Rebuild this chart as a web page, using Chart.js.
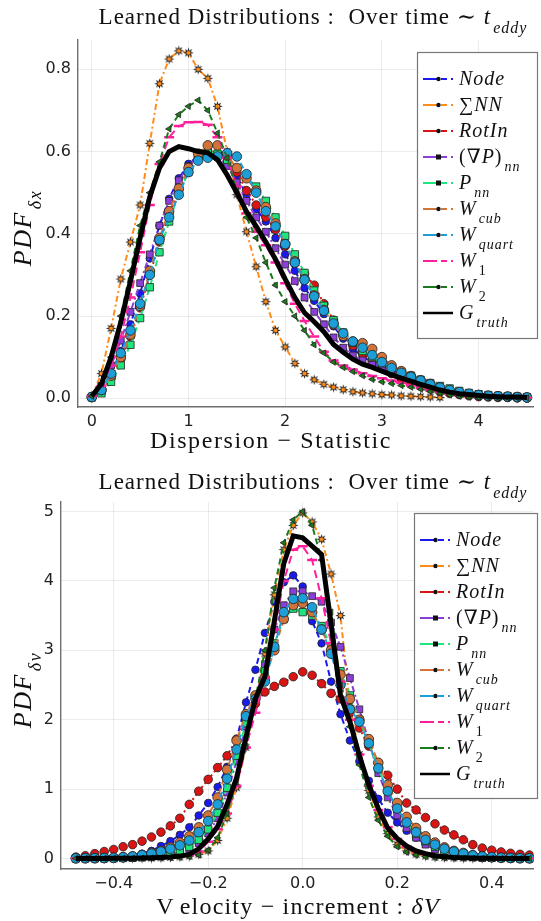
<!DOCTYPE html>
<html>
<head>
<meta charset="utf-8">
<script src="https://cdn.jsdelivr.net/npm/chart.js@4.4.1/dist/chart.umd.min.js"></script>
<style>
  html, body { margin: 0; padding: 0; background: #fff; }
  #wrap { position: relative; width: 541px; height: 921px; overflow: hidden; }
  canvas { position: absolute; left: 0; }
</style>
</head>
<body>
<div id="wrap">
  <canvas id="topChart" width="541" height="460" style="top:0"></canvas>
  <canvas id="botChart" width="541" height="461" style="top:460px"></canvas>
</div>
<script>
// ---- top panel: dispersion statistic ----
const xTop = [0, 0.1, 0.2, 0.3, 0.4, 0.5, 0.6, 0.7, 0.8, 0.9, 1.0, 1.1, 1.2, 1.3, 1.4, 1.5, 1.6, 1.7, 1.8, 1.9,
  2.0, 2.1, 2.2, 2.3, 2.4, 2.5, 2.6, 2.7, 2.8, 2.9, 3.0, 3.1, 3.2, 3.3, 3.4, 3.5, 3.6, 3.7, 3.8, 3.9,
  4.0, 4.1, 4.2, 4.3, 4.4, 4.5]
const topNode = [0.003, 0.02, 0.06, 0.115, 0.18, 0.255, 0.34, 0.42, 0.485, 0.535, 0.57, 0.59, 0.597, 0.595, 0.58, 0.54, 0.495, 0.46, 0.43, 0.39,
  0.35, 0.31, 0.268, 0.237, 0.205, 0.175, 0.145, 0.12, 0.102, 0.087, 0.072, 0.06, 0.048, 0.039, 0.031, 0.024, 0.018, 0.013, 0.01, 0.007,
  0.005, 0.004, 0.003, 0.002, 0.002, 0.001]
const topSumNN = [0.005, 0.06, 0.17, 0.29, 0.38, 0.47, 0.62, 0.765, 0.825, 0.845, 0.84, 0.8, 0.778, 0.71, 0.6, 0.495, 0.405, 0.32, 0.235, 0.165,
  0.125, 0.085, 0.06, 0.045, 0.034, 0.027, 0.021, 0.016, 0.013, 0.011, 0.009, 0.008, 0.006, 0.005, 0.004, 0.003, 0.002, null, null, null,
  null, null, null, null, null, null]
const topRotIn = [0.002, 0.015, 0.05, 0.095, 0.15, 0.22, 0.3, 0.38, 0.45, 0.505, 0.55, 0.585, 0.6, 0.595, 0.575, 0.55, 0.505, 0.47, 0.44, 0.41,
  0.37, 0.335, 0.303, 0.275, 0.23, 0.19, 0.155, 0.128, 0.108, 0.088, 0.073, 0.06, 0.048, 0.038, 0.03, 0.023, 0.017, 0.012, 0.009, 0.006,
  0.004, 0.003, 0.002, 0.002, 0.001, 0.001]
const topGradP = [0.004, 0.03, 0.08, 0.14, 0.21, 0.28, 0.35, 0.42, 0.48, 0.53, 0.565, 0.59, 0.6, 0.59, 0.565, 0.525, 0.48, 0.44, 0.405, 0.365,
  0.325, 0.285, 0.245, 0.21, 0.18, 0.148, 0.123, 0.104, 0.092, 0.082, 0.074, 0.067, 0.058, 0.048, 0.038, 0.03, 0.024, 0.018, 0.013, 0.01,
  0.007, 0.005, 0.004, 0.003, 0.002, 0.002]
const topPnn = [0.002, 0.012, 0.04, 0.08, 0.13, 0.195, 0.27, 0.355, 0.43, 0.5, 0.55, 0.585, 0.598, 0.595, 0.58, 0.56, 0.537, 0.515, 0.48, 0.44,
  0.395, 0.35, 0.305, 0.262, 0.225, 0.19, 0.16, 0.135, 0.115, 0.1, 0.085, 0.075, 0.065, 0.055, 0.045, 0.037, 0.03, 0.024, 0.018, 0.013,
  0.01, 0.008, 0.006, 0.005, 0.004, 0.003]
const topWcub = [0.003, 0.02, 0.055, 0.1, 0.155, 0.225, 0.31, 0.39, 0.455, 0.51, 0.56, 0.595, 0.615, 0.615, 0.59, 0.56, 0.535, 0.505, 0.465, 0.425,
  0.375, 0.333, 0.29, 0.25, 0.215, 0.18, 0.152, 0.138, 0.134, 0.12, 0.1, 0.08, 0.066, 0.054, 0.044, 0.035, 0.026, 0.019, 0.014, 0.01,
  0.008, 0.006, 0.005, 0.004, 0.003, 0.002]
const topWquart = [0.003, 0.02, 0.06, 0.11, 0.165, 0.23, 0.3, 0.385, 0.44, 0.495, 0.55, 0.578, 0.585, 0.588, 0.596, 0.588, 0.545, 0.5, 0.455, 0.418,
  0.375, 0.33, 0.288, 0.248, 0.213, 0.182, 0.158, 0.138, 0.123, 0.105, 0.088, 0.074, 0.062, 0.052, 0.043, 0.034, 0.026, 0.02, 0.015, 0.011,
  0.008, 0.006, 0.005, 0.004, 0.003, 0.002]
const topW1 = [0.005, 0.03, 0.08, 0.15, 0.245, 0.355, 0.47, 0.57, 0.635, 0.662, 0.671, 0.672, 0.665, 0.635, 0.585, 0.515, 0.45, 0.405, 0.372, 0.33,
  0.28, 0.23, 0.188, 0.15, 0.113, 0.092, 0.08, 0.07, 0.061, 0.054, 0.049, 0.043, 0.037, 0.031, 0.025, 0.019, 0.014, 0.01, 0.007, 0.005,
  0.004, 0.003, 0.002, 0.002, 0.001, 0.001]
const topW2 = [0.005, 0.035, 0.1, 0.2, 0.31, 0.42, 0.5, 0.575, 0.655, 0.69, 0.71, 0.725, 0.7, 0.645, 0.585, 0.505, 0.44, 0.39, 0.33, 0.275,
  0.235, 0.2, 0.165, 0.13, 0.11, 0.088, 0.075, 0.065, 0.055, 0.046, 0.04, 0.036, 0.031, 0.027, 0.022, 0.017, 0.012, 0.008, 0.005, 0.003,
  0.002, 0.002, 0.001, 0.001, 0.001, 0.001]
const topTruth = [0.005, 0.035, 0.1, 0.185, 0.285, 0.39, 0.49, 0.56, 0.6, 0.612, 0.607, 0.6, 0.597, 0.58, 0.543, 0.5, 0.454, 0.418, 0.38, 0.338,
  0.29, 0.245, 0.208, 0.186, 0.162, 0.131, 0.112, 0.095, 0.083, 0.075, 0.066, 0.057, 0.049, 0.042, 0.034, 0.027, 0.02, 0.015, 0.011, 0.009,
  0.007, 0.005, 0.004, 0.003, 0.003, 0.002]

// ---- bottom panel: velocity increment ----
const xBot = [-0.48, -0.46, -0.44, -0.42, -0.40, -0.38, -0.36, -0.34, -0.32, -0.30, -0.28, -0.26, -0.24, -0.22, -0.20, -0.18, -0.16, -0.14, -0.12, -0.10,
  -0.08, -0.06, -0.04, -0.02, 0, 0.02, 0.04, 0.06, 0.08, 0.10, 0.12, 0.14, 0.16, 0.18, 0.20, 0.22, 0.24, 0.26, 0.28, 0.30,
  0.32, 0.34, 0.36, 0.38, 0.40, 0.42, 0.44, 0.46, 0.48]
const botNode = [0.005, 0.006, 0.008, 0.01, 0.015, 0.025, 0.04, 0.07, 0.11, 0.18, 0.25, 0.34, 0.45, 0.62, 0.8, 1.03, 1.32, 1.72, 2.25, 2.72,
  3.25, 3.7, 3.98, 4.08, 3.92, 3.42, 3.1, 2.55, 2.08, 1.7, 1.4, 1.12, 0.86, 0.66, 0.52, 0.4, 0.3, 0.21, 0.16, 0.12,
  0.09, 0.06, 0.04, 0.03, 0.02, 0.012, 0.008, 0.005, 0.003]
const botSumNN = [0.001, 0.001, 0.001, 0.002, 0.002, 0.003, 0.004, 0.005, 0.007, 0.01, 0.015, 0.022, 0.035, 0.06, 0.11, 0.26, 0.58, 1.02, 1.6, 2.25,
  2.95, 3.8, 4.45, 4.8, 4.98, 4.85, 4.6, 4.1, 3.5, 2.2, 1.5, 0.98, 0.6, 0.36, 0.2, 0.11, 0.06, 0.035, 0.02, 0.012,
  0.008, 0.005, 0.003, 0.002, 0.001, 0.001, 0.001, 0.001, 0.001]
const botRotIn = [0.02, 0.04, 0.07, 0.1, 0.13, 0.17, 0.2, 0.25, 0.31, 0.38, 0.47, 0.58, 0.78, 0.97, 1.14, 1.31, 1.48, 1.72, 2.01, 2.23,
  2.4, 2.48, 2.54, 2.62, 2.69, 2.64, 2.52, 2.38, 2.3, 2.1, 1.88, 1.62, 1.38, 1.2, 1.0, 0.8, 0.7, 0.59, 0.5, 0.41,
  0.34, 0.27, 0.2, 0.15, 0.12, 0.095, 0.075, 0.06, 0.05]
const botGradP = [0, 0, 0.001, 0.002, 0.004, 0.006, 0.01, 0.02, 0.03, 0.04, 0.06, 0.09, 0.14, 0.22, 0.36, 0.58, 0.95, 1.4, 1.9, 2.3,
  2.8, 3.3, 3.65, 3.85, 3.85, 3.78, 3.7, 3.4, 3.05, 2.6, 2.15, 1.68, 1.23, 0.88, 0.62, 0.44, 0.3, 0.2, 0.13, 0.08,
  0.05, 0.03, 0.02, 0.01, 0.006, 0.004, 0.002, 0.001, 0]
const botPnn = [0.002, 0.002, 0.003, 0.004, 0.006, 0.008, 0.012, 0.02, 0.03, 0.05, 0.07, 0.11, 0.17, 0.27, 0.42, 0.66, 1.02, 1.48, 1.95, 2.32,
  2.7, 3.1, 3.45, 3.6, 3.55, 3.5, 3.35, 3.05, 2.7, 2.35, 2.0, 1.65, 1.3, 0.98, 0.72, 0.52, 0.36, 0.25, 0.17, 0.11,
  0.07, 0.05, 0.03, 0.02, 0.012, 0.008, 0.005, 0.003, 0.002]
const botWcub = [0.003, 0.004, 0.005, 0.007, 0.01, 0.02, 0.03, 0.05, 0.08, 0.11, 0.16, 0.23, 0.32, 0.45, 0.62, 0.88, 1.28, 1.7, 2.08, 2.35,
  2.6, 3.0, 3.45, 3.65, 3.68, 3.55, 3.3, 3.0, 2.65, 2.3, 2.0, 1.72, 1.38, 1.06, 0.8, 0.6, 0.44, 0.32, 0.23, 0.16,
  0.11, 0.08, 0.05, 0.03, 0.02, 0.012, 0.008, 0.005, 0.003]
const botWquart = [0.003, 0.004, 0.005, 0.007, 0.01, 0.018, 0.03, 0.05, 0.07, 0.1, 0.14, 0.19, 0.26, 0.38, 0.54, 0.78, 1.15, 1.57, 2.05, 2.3,
  2.55, 3.05, 3.55, 3.74, 3.75, 3.62, 3.3, 2.95, 2.5, 2.15, 1.97, 1.66, 1.3, 0.97, 0.72, 0.52, 0.38, 0.27, 0.2, 0.14,
  0.1, 0.07, 0.045, 0.03, 0.02, 0.012, 0.008, 0.005, 0.003]
const botW1 = [0.001, 0.001, 0.001, 0.002, 0.002, 0.003, 0.004, 0.006, 0.008, 0.012, 0.018, 0.03, 0.05, 0.1, 0.24, 0.42, 0.65, 1.05, 1.6, 2.1,
  2.6, 3.3, 4.0, 4.45, 4.5, 4.3, 3.75, 3.1, 2.55, 2.0, 1.5, 1.05, 0.7, 0.45, 0.28, 0.17, 0.1, 0.06, 0.035, 0.02,
  0.012, 0.008, 0.005, 0.003, 0.002, 0.001, 0.001, 0.001, 0.001]
const botW2 = [0.002, 0.002, 0.002, 0.003, 0.003, 0.004, 0.005, 0.006, 0.008, 0.01, 0.012, 0.02, 0.03, 0.05, 0.12, 0.3, 0.65, 1.1, 1.62, 2.3,
  3.0, 3.9, 4.55, 4.88, 5.0, 4.8, 4.3, 3.55, 2.5, 1.9, 1.35, 0.88, 0.55, 0.32, 0.17, 0.09, 0.05, 0.03, 0.015, 0.01,
  0.006, 0.004, 0.003, 0.002, 0.002, 0.001, 0.001, 0.001, 0.001]
const botTruth = [0.001, 0.001, 0.002, 0.002, 0.003, 0.004, 0.005, 0.007, 0.01, 0.015, 0.022, 0.035, 0.06, 0.14, 0.28, 0.46, 0.78, 1.16, 1.75, 2.3,
  2.62, 3.42, 4.25, 4.65, 4.62, 4.5, 4.38, 3.38, 2.35, 1.97, 1.48, 1.06, 0.72, 0.44, 0.29, 0.18, 0.11, 0.07, 0.04, 0.025,
  0.015, 0.01, 0.007, 0.005, 0.003, 0.002, 0.001, 0.001, 0.001]

const topXTicks = [0, 1, 2, 3, 4]
const topYTicks = [0, 0.2, 0.4, 0.6, 0.8]
const botXTicks = [-0.4, -0.2, 0, 0.2, 0.4]
const botYTicks = [0, 1, 2, 3, 4, 5]

// label pieces: r roman, i italic, s italic subscript, n roman subscript, g gap
const seriesNames = [
  [['i', 'Node']],
  [['r', '∑'], ['i', 'NN']],
  [['i', 'RotIn']],
  [['r', '(∇'], ['i', 'P'], ['r', ')'], ['s', 'nn']],
  [['i', 'P'], ['s', 'nn']],
  [['i', 'W'], ['s', 'cub']],
  [['i', 'W'], ['s', 'quart']],
  [['i', 'W'], ['n', '1']],
  [['i', 'W'], ['n', '2']],
  [['i', 'G'], ['s', 'truth']]
]

function starMarker () {
  const c = document.createElement('canvas')
  c.width = 11
  c.height = 11
  const g = c.getContext('2d')
  g.beginPath()
  for (let k = 0; k < 16; k++) {
    const a = k * Math.PI / 8
    const r = k % 2 ? 2.4 : 5.2
    g.lineTo(5.5 + r * Math.cos(a), 5.5 + r * Math.sin(a))
  }
  g.closePath()
  g.fillStyle = '#1a1a1a'
  g.fill()
  g.beginPath()
  g.arc(5.5, 5.5, 2.1, 0, Math.PI * 2)
  g.fillStyle = '#ff8c1a'
  g.fill()
  return c
}

const styles = [
  { color: '#1a1aee', marker: 'circle', r: 3.8, dash: [6, 4] },
  { color: '#ff8c1a', marker: starMarker(), r: 5, dash: [6, 3, 2, 3] },
  { color: '#d81414', marker: 'circle', r: 4.3, dash: [2, 3] },
  { color: '#8b3fd6', marker: 'rect', r: 4.8, dash: [6, 3, 2, 3] },
  { color: '#1fe67c', marker: 'rect', r: 5.2, dash: [6, 4] },
  { color: '#d2733a', marker: 'circle', r: 4.8, dash: [6, 4] },
  { color: '#1e9ed6', marker: 'circle', r: 4.8, dash: [6, 4] },
  { color: '#ff1f9a', marker: 'line', r: 5, dash: [8, 5] },
  { color: '#1b7a1b', marker: 'triangle', r: 3.6, dash: [6, 4] },
  { color: '#000000', marker: false, r: 0, dash: [] }
]

function makeSets (xs, series) {
  return series.map((ys, i) => {
    const st = styles[i]
    const pts = []
    xs.forEach((x, j) => { if (ys[j] !== null) pts.push({ x, y: ys[j] }) })
    const isLine = st.marker === 'line'
    return {
      data: pts,
      borderColor: st.color,
      borderWidth: i === 9 ? 5 : 2,
      borderDash: st.dash,
      pointStyle: st.marker,
      pointRadius: st.r,
      pointBackgroundColor: st.color,
      pointBorderColor: isLine ? st.color : '#222',
      pointBorderWidth: isLine ? 2.5 : 0.8,
      pointRotation: st.marker === 'triangle' ? -90 : 0,
      tension: 0,
      fill: false,
      order: 9 - i
    }
  })
}

const SERIF = '"Liberation Serif", "DejaVu Serif", serif'

function segFont (t, size) {
  if (t === 'i') return 'italic ' + size + 'px ' + SERIF
  if (t === 's') return 'italic ' + Math.round(size * 0.68) + 'px ' + SERIF
  if (t === 'n') return Math.round(size * 0.68) + 'px ' + SERIF
  return size + 'px ' + SERIF
}

function mathWidth (ctx, segs, size) {
  let w = 0
  segs.forEach(([t, s]) => {
    if (t === 'g') { w += s; return }
    ctx.font = segFont(t, size)
    w += ctx.measureText(s).width + (t === 's' || t === 'n' ? 2 : 0)
  })
  return w
}

function drawMath (ctx, segs, x, y, size, align, spacing) {
  ctx.letterSpacing = (spacing || 0) + 'px'
  let cx = align === 'center' ? x - mathWidth(ctx, segs, size) / 2 : x
  ctx.textAlign = 'left'
  ctx.textBaseline = 'alphabetic'
  segs.forEach(([t, s]) => {
    if (t === 'g') { cx += s; return }
    ctx.font = segFont(t, size)
    const sub = t === 's' || t === 'n'
    if (sub) cx += 2
    ctx.fillText(s, cx, y + (sub ? size * 0.4 : 0))
    cx += ctx.measureText(s).width
  })
  ctx.letterSpacing = '0px'
}

function drawLegend (ctx, box) {
  ctx.save()
  ctx.fillStyle = '#fff'
  ctx.fillRect(box.x, box.y, box.w, box.h)
  ctx.strokeStyle = '#777'
  ctx.lineWidth = 1.2
  ctx.strokeRect(box.x + 0.5, box.y + 0.5, box.w, box.h)
  styles.forEach((st, i) => {
    const y = box.first + i * 26
    const x0 = box.x + 6
    const x1 = box.x + 36
    ctx.strokeStyle = st.color
    ctx.lineWidth = i === 9 ? 2.5 : 2
    ctx.setLineDash([])
    ctx.beginPath()
    ctx.moveTo(x0, y)
    ctx.lineTo(x0 + 14, y)
    ctx.stroke()
    ctx.setLineDash(i === 9 ? [] : [6, 4])
    ctx.beginPath()
    ctx.moveTo(x0 + 18, y)
    ctx.lineTo(x1, y)
    ctx.stroke()
    ctx.setLineDash([])
    if (i !== 7 && i !== 9) {
      ctx.fillStyle = '#111'
      ctx.beginPath()
      if (st.marker === 'rect') ctx.rect(x0 + 13, y - 2.5, 5, 5)
      else ctx.arc(x0 + 15.5, y, 2.2, 0, Math.PI * 2)
      ctx.fill()
    } else if (i === 9) {
      ctx.beginPath()
      ctx.moveTo(x0 + 14, y)
      ctx.lineTo(x0 + 18, y)
      ctx.stroke()
    }
    ctx.fillStyle = '#111'
    drawMath(ctx, seriesNames[i], box.x + 42, y + 6, 20, 'left', 1)
  })
  ctx.restore()
}

function textPlugin (cfg) {
  return {
    id: 'mathText',
    afterDraw (chart) {
      const ctx = chart.ctx
      ctx.save()
      ctx.fillStyle = '#111'
      drawMath(ctx, cfg.title, cfg.titleX, cfg.titleY, 23, 'center', 1)
      drawMath(ctx, cfg.xTitle, cfg.xTitleX, cfg.xTitleY, 24, 'center', cfg.xSpacing)
      ctx.translate(cfg.yTitleX, cfg.yTitleY)
      ctx.rotate(-Math.PI / 2)
      drawMath(ctx, cfg.yTitle, 0, 0, 26, 'center', 1.5)
      ctx.restore()
      drawLegend(ctx, cfg.legend)
    }
  }
}

function fmtMinus (s) { return s.replace('-', '\u2212') }

function options (cfg) {
  const tickFont = { family: '"DejaVu Sans", sans-serif', size: 16 }
  return {
    responsive: false,
    animation: false,
    events: [],
    layout: { padding: { top: cfg.padTop, left: 0, right: 0, bottom: 0 } },
    plugins: { legend: { display: false }, tooltip: { enabled: false } },
    scales: {
      x: {
        type: 'linear',
        min: cfg.xMin,
        max: cfg.xMax,
        afterFit (s) { s.height = cfg.xAxisH },
        afterBuildTicks (s) { s.ticks = cfg.xTicks.map(v => ({ value: v })) },
        ticks: { font: tickFont, color: '#222', padding: 5, maxRotation: 0, autoSkip: false, callback: cfg.xFmt },
        grid: { color: 'rgba(0,0,0,0.075)', drawTicks: false },
        border: { color: '#6e6e6e', width: 1.4 }
      },
      y: {
        type: 'linear',
        min: cfg.yMin,
        max: cfg.yMax,
        afterFit (s) { s.width = cfg.yAxisW },
        afterBuildTicks (s) { s.ticks = cfg.yTicks.map(v => ({ value: v })) },
        ticks: { font: tickFont, color: '#222', padding: 7, autoSkip: false, callback: cfg.yFmt },
        grid: { color: 'rgba(0,0,0,0.075)', drawTicks: false },
        border: { color: '#6e6e6e', width: 1.4 }
      }
    }
  }
}

const titleSegs = [['r', 'Learned Distributions :  Over time ∼ '], ['i', 't'], ['s', 'eddy']]

new Chart(document.getElementById('topChart'), {
  type: 'line',
  data: { datasets: makeSets(xTop, [topNode, topSumNN, topRotIn, topGradP, topPnn, topWcub, topWquart, topW1, topW2, topTruth]) },
  options: options({
    padTop: 40, xAxisH: 53, yAxisW: 78,
    xMin: -0.1424, xMax: 4.5676, yMin: -0.0212, yMax: 0.8713,
    xTicks: topXTicks, yTicks: topYTicks,
    xFmt: v => String(v), yFmt: v => v.toFixed(1)
  }),
  plugins: [textPlugin({
    title: titleSegs, titleX: 313, titleY: 24,
    xTitle: [['r', 'Dispersion − Statistic']], xTitleX: 271, xTitleY: 448, xSpacing: 1.6,
    yTitle: [['i', 'PDF'], ['s', 'δx']], yTitleX: 31, yTitleY: 228,
    legend: { x: 417, y: 52, w: 120, h: 286, first: 79 }
  })]
})

new Chart(document.getElementById('botChart'), {
  type: 'line',
  data: { datasets: makeSets(xBot, [botNode, botSumNN, botRotIn, botGradP, botPnn, botWcub, botWquart, botW1, botW2, botTruth]) },
  options: options({
    padTop: 42, xAxisH: 52, yAxisW: 61,
    xMin: -0.5115, xMax: 0.4885, yMin: -0.151, yMax: 5.137,
    xTicks: botXTicks, yTicks: botYTicks,
    xFmt: v => fmtMinus(v.toFixed(1)), yFmt: v => String(v)
  }),
  plugins: [textPlugin({
    title: titleSegs, titleX: 313, titleY: 29,
    xTitle: [['r', 'V'], ['g', 5], ['r', 'elocity − increment : '], ['i', 'δV']], xTitleX: 298, xTitleY: 454, xSpacing: 1.2,
    yTitle: [['i', 'PDF'], ['s', 'δv']], yTitleX: 31, yTitleY: 230,
    legend: { x: 414, y: 53, w: 123, h: 285, first: 80 }
  })]
})
</script>
</body>
</html>
